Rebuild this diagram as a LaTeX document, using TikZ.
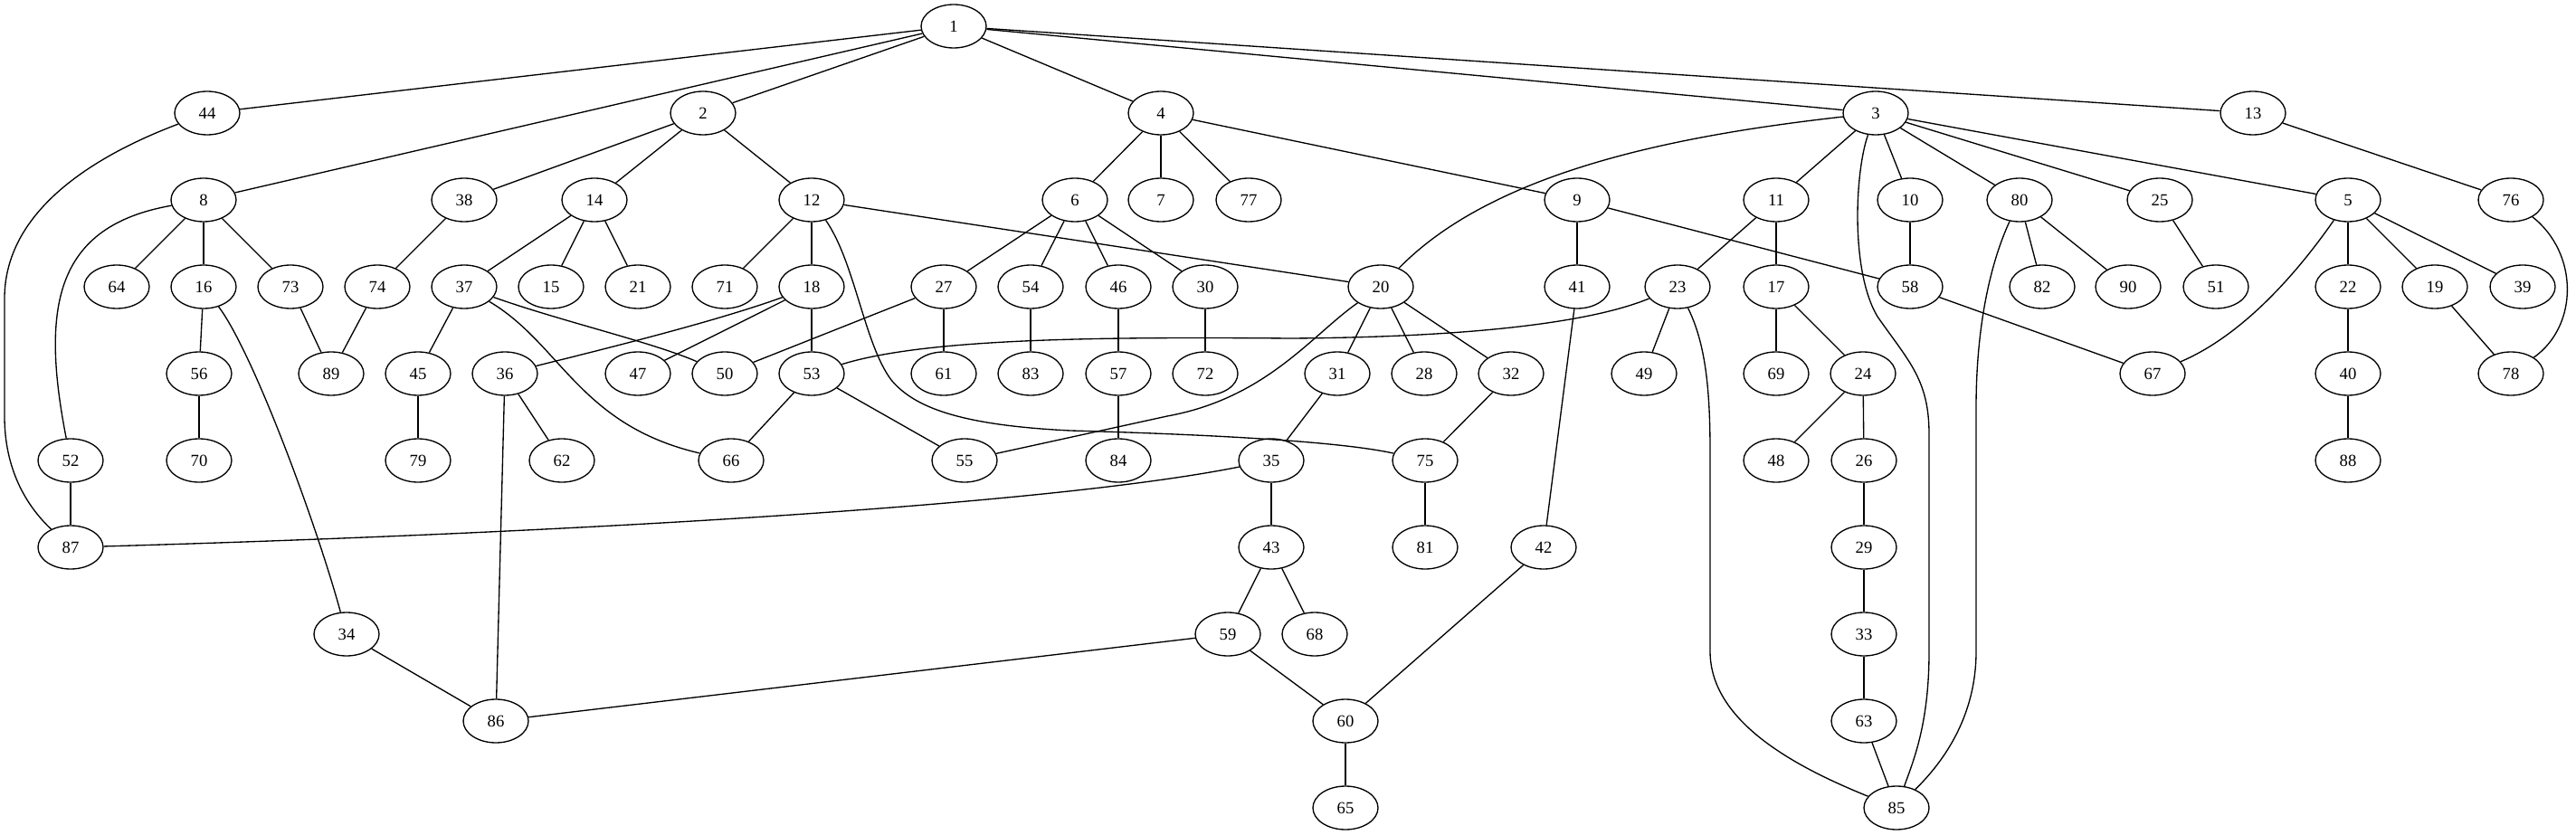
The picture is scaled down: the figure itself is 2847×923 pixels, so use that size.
\documentclass[tikz,border=0pt]{standalone}
\usepackage{fontspec}
\setmainfont{Liberation Serif}
\usetikzlibrary{shapes.geometric}
\begin{document}
\begin{tikzpicture}[x=0.75pt,y=-0.75pt,
  v/.style={draw,ellipse,line width=1pt,minimum width=54pt,minimum height=36pt,inner sep=0pt,
    font=\fontsize{14pt}{16pt}\selectfont},
  every path/.style={line width=1pt}]
\useasboundingbox (0,0) rectangle (2847,923);
% nodes: name/x/y
\foreach \n/\x/\y in {
 1/1054/29,
 44/229/125, 2/777/125, 4/1283/125, 3/2073/125, 13/2490/125,
 8/225/221, 38/513/221, 14/657/221, 12/897/221, 6/1188/221, 7/1283/221, 77/1380/221,
 9/1743/221, 11/1963/221, 10/2111/221, 80/2232/221, 25/2387/221, 5/2595/221, 76/2775/221,
 64/129/317, 16/225/317, 73/321/317, 74/417/317, 37/513/317, 15/609/317, 21/705/317,
 71/801/317, 18/897/317, 27/1043/317, 54/1139/317, 46/1236/317, 30/1332/317, 20/1526/317,
 41/1743/317, 23/1854/317, 17/1963/317, 58/2111/317, 82/2257/317, 90/2352/317, 51/2449/317,
 22/2595/317, 19/2691/317, 39/2788/317,
 56/220/413, 89/366/413, 45/462/413, 36/558/413, 47/705/413, 50/801/413, 53/897/413,
 61/1043/413, 83/1139/413, 57/1236/413, 72/1332/413, 31/1478/413, 28/1574/413, 32/1670/413,
 49/1817/413, 69/1963/413, 24/2059/413, 67/2379/413, 40/2595/413, 78/2775/413,
 52/78/509, 70/220/509, 79/462/509, 62/621/509, 66/808/509, 55/1066/509, 84/1236/509,
 35/1405/509, 75/1575/509, 48/1963/509, 26/2060/509, 88/2595/509,
 87/78/605, 43/1405/605, 81/1575/605, 42/1706/605, 29/2060/605,
 34/383/701, 59/1357/701, 68/1453/701, 33/2060/701,
 86/548/797, 60/1487/797, 63/2060/797,
 65/1487/893, 85/2096/893}
  \node[v] (n\n) at (\x,\y) {\n};
% straight edges
\foreach \a/\b in {
 1/44,1/8,1/2,1/4,1/3,1/13,
 2/38,2/14,2/12,
 4/6,4/7,4/77,4/9,
 3/11,3/10,3/80,3/25,3/5,
 13/76,
 8/64,8/16,8/73,
 38/74,
 14/37,14/15,14/21,
 12/71,12/18,12/20,
 6/27,6/54,6/46,6/30,
 9/41,9/58,
 11/23,11/17,
 10/58,
 80/82,80/90,
 25/51,
 5/22,5/19,5/39,
 16/56,
 73/89,74/89,
 37/45,
 18/47,18/53,
 27/61,27/50,
 54/83,46/57,30/72,
 20/31,20/28,20/32,
 41/42,
 23/49,
 17/69,17/24,
 58/67,
 22/40,19/78,
 56/70,45/79,
 36/62,36/86,
 53/66,53/55,
 57/84,
 31/35,32/75,
 24/48,24/26,
 40/88,
 52/87,
 35/43,
 75/81,
 26/29,29/33,33/63,63/85,
 43/59,43/68,
 42/60,
 59/86,59/60,
 34/86,
 60/65}
  \draw (n\a) -- (n\b);
% curved edges
\draw (n3) .. controls (1850,150) and (1650,190) .. (n20);
\draw (n44) .. controls (110,170) and (5,230) .. (5,330) -- (5,460) .. controls (5,520) and (30,560) .. (n87);
\draw (n8) .. controls (60,250) and (45,340) .. (n52);
\draw (n12) .. controls (945,290) and (955,380) .. (985,420) .. controls (1010,450) and (1060,470) .. (1183,476) .. controls (1400,482) and (1500,492) .. (n75);
\draw (n20) .. controls (1450,370) and (1400,440) .. (1290,460) -- (n55);
\draw (n23) .. controls (1750,360) and (1600,373) .. (1425,374) .. controls (1200,372) and (1020,375) .. (n53);
\draw (n23) .. controls (1885,380) and (1890,430) .. (1890,500) -- (1890,720) .. controls (1890,800) and (1990,850) .. (n85);
\draw (n3) .. controls (2050,190) and (2045,300) .. (2075,350) .. controls (2110,400) and (2132,420) .. (2132,480) -- (2132,720) .. controls (2132,800) and (2115,840) .. (n85);
\draw (n80) .. controls (2200,290) and (2184,360) .. (2184,450) -- (2184,720) .. controls (2184,790) and (2150,840) .. (n85);
\draw (n5) .. controls (2540,300) and (2480,370) .. (n67);
\draw (n76) .. controls (2850,280) and (2850,360) .. (n78);
\draw (n16) .. controls (280,390) and (350,580) .. (n34);
\draw (n37) .. controls (620,380) and (640,470) .. (n66);
\draw (n37) .. controls (620,355) and (720,378) .. (n50);
\draw (n18) .. controls (800,352) and (700,378) .. (n36);
\draw (n87) .. controls (600,590) and (1150,560) .. (n35);
\end{tikzpicture}
\end{document}
